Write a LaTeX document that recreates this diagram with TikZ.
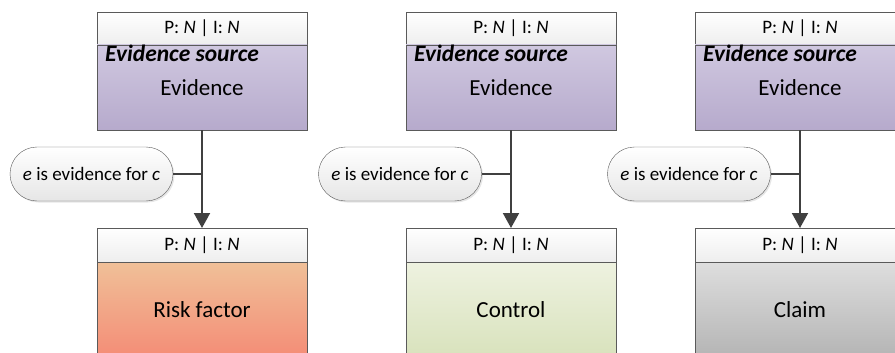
\documentclass[tikz,border=0pt]{standalone}
\usepackage{fontspec}
\setmainfont{Carlito}
\usepackage{tikz}
\usetikzlibrary{positioning,arrows.meta,shadows}

\definecolor{boxline}{RGB}{90,90,90}
\definecolor{flowline}{RGB}{64,64,64}
\definecolor{hdrbot}{RGB}{238,238,238}
\definecolor{evtop}{RGB}{208,200,224}
\definecolor{evbot}{RGB}{182,170,204}
\definecolor{risktop}{RGB}{240,192,152}
\definecolor{riskbot}{RGB}{244,140,118}
\definecolor{ctrltop}{RGB}{238,242,224}
\definecolor{ctrlbot}{RGB}{216,226,188}
\definecolor{claimtop}{RGB}{222,222,222}
\definecolor{claimbot}{RGB}{180,180,180}
\definecolor{pillbot}{RGB}{230,230,230}

\newcommand{\pin}{P: \textit{N} | I: \textit{N}}

\begin{document}
\begin{tikzpicture}[x=1pt,y=-1pt,node distance=0pt,>={Triangle[width=16pt,length=15pt]}]
  \tikzstyle{hdr}=[draw=boxline,thick,minimum width=210pt,minimum height=33pt,inner sep=0pt,outer sep=0pt,top color=white,bottom color=hdrbot,font=\fontsize{19}{22}\selectfont]
  \tikzstyle{body}=[draw=boxline,thick,minimum width=210pt,inner sep=0pt,outer sep=0pt,font=\fontsize{23}{27}\selectfont]
  \tikzstyle{pill}=[draw=boxline,thin,rounded corners=27pt,minimum width=163pt,minimum height=54pt,inner sep=0pt,top color=white,bottom color=pillbot,drop shadow={opacity=0.2,shadow xshift=1.5pt,shadow yshift=-1.5pt},font=\fontsize{19}{22}\selectfont]
  \tikzstyle{flow}=[draw=flowline,line width=2pt]

  \clip (0,0) rectangle (895,353);

  % Evidence boxes
  \node[hdr] (h1) at (202,28.5) {\pin};
  \node[body,minimum height=85pt,top color=evtop,bottom color=evbot] (e1) [below=of h1] {Evidence};
  \node[hdr] (h2) at (511,28.5) {\pin};
  \node[body,minimum height=85pt,top color=evtop,bottom color=evbot] (e2) [below=of h2] {Evidence};
  \node[hdr] (h3) at (800,28.5) {\pin};
  \node[body,minimum height=85pt,top color=evtop,bottom color=evbot] (e3) [below=of h3] {Evidence};

  \foreach \i in {1,2,3}
    \node[anchor=base west,inner sep=0pt,font=\fontsize{23.5}{27}\selectfont\bfseries\itshape]
      at ([xshift=8pt,yshift=-17pt]e\i.north west) {Evidence source};

  % Target boxes
  \node[hdr,minimum height=34pt] (h4) at (202,245) {\pin};
  \node[body,minimum height=96pt,top color=risktop,bottom color=riskbot] (rf) [below=of h4] {Risk factor};
  \node[hdr,minimum height=34pt] (h5) at (511,245) {\pin};
  \node[body,minimum height=96pt,top color=ctrltop,bottom color=ctrlbot] (ct) [below=of h5] {Control};
  \node[hdr,minimum height=34pt] (h6) at (800,245) {\pin};
  \node[body,minimum height=96pt,top color=claimtop,bottom color=claimbot] (cl) [below=of h6] {Claim};

  % Labels
  \node[pill] (l1) at (91.5,174) {\textit{e} is evidence for \textit{c}};
  \node[pill] (l2) at (400,174) {\textit{e} is evidence for \textit{c}};
  \node[pill] (l3) at (689,174) {\textit{e} is evidence for \textit{c}};

  % Links
  \draw[flow,->] (e1.south) -- (h4.north);
  \draw[flow,->] (e2.south) -- (h5.north);
  \draw[flow,->] (e3.south) -- (h6.north);
  \draw[flow] (l1.east) -- (l1.east -| e1.south);
  \draw[flow] (l2.east) -- (l2.east -| e2.south);
  \draw[flow] (l3.east) -- (l3.east -| e3.south);

\end{tikzpicture}
\end{document}
